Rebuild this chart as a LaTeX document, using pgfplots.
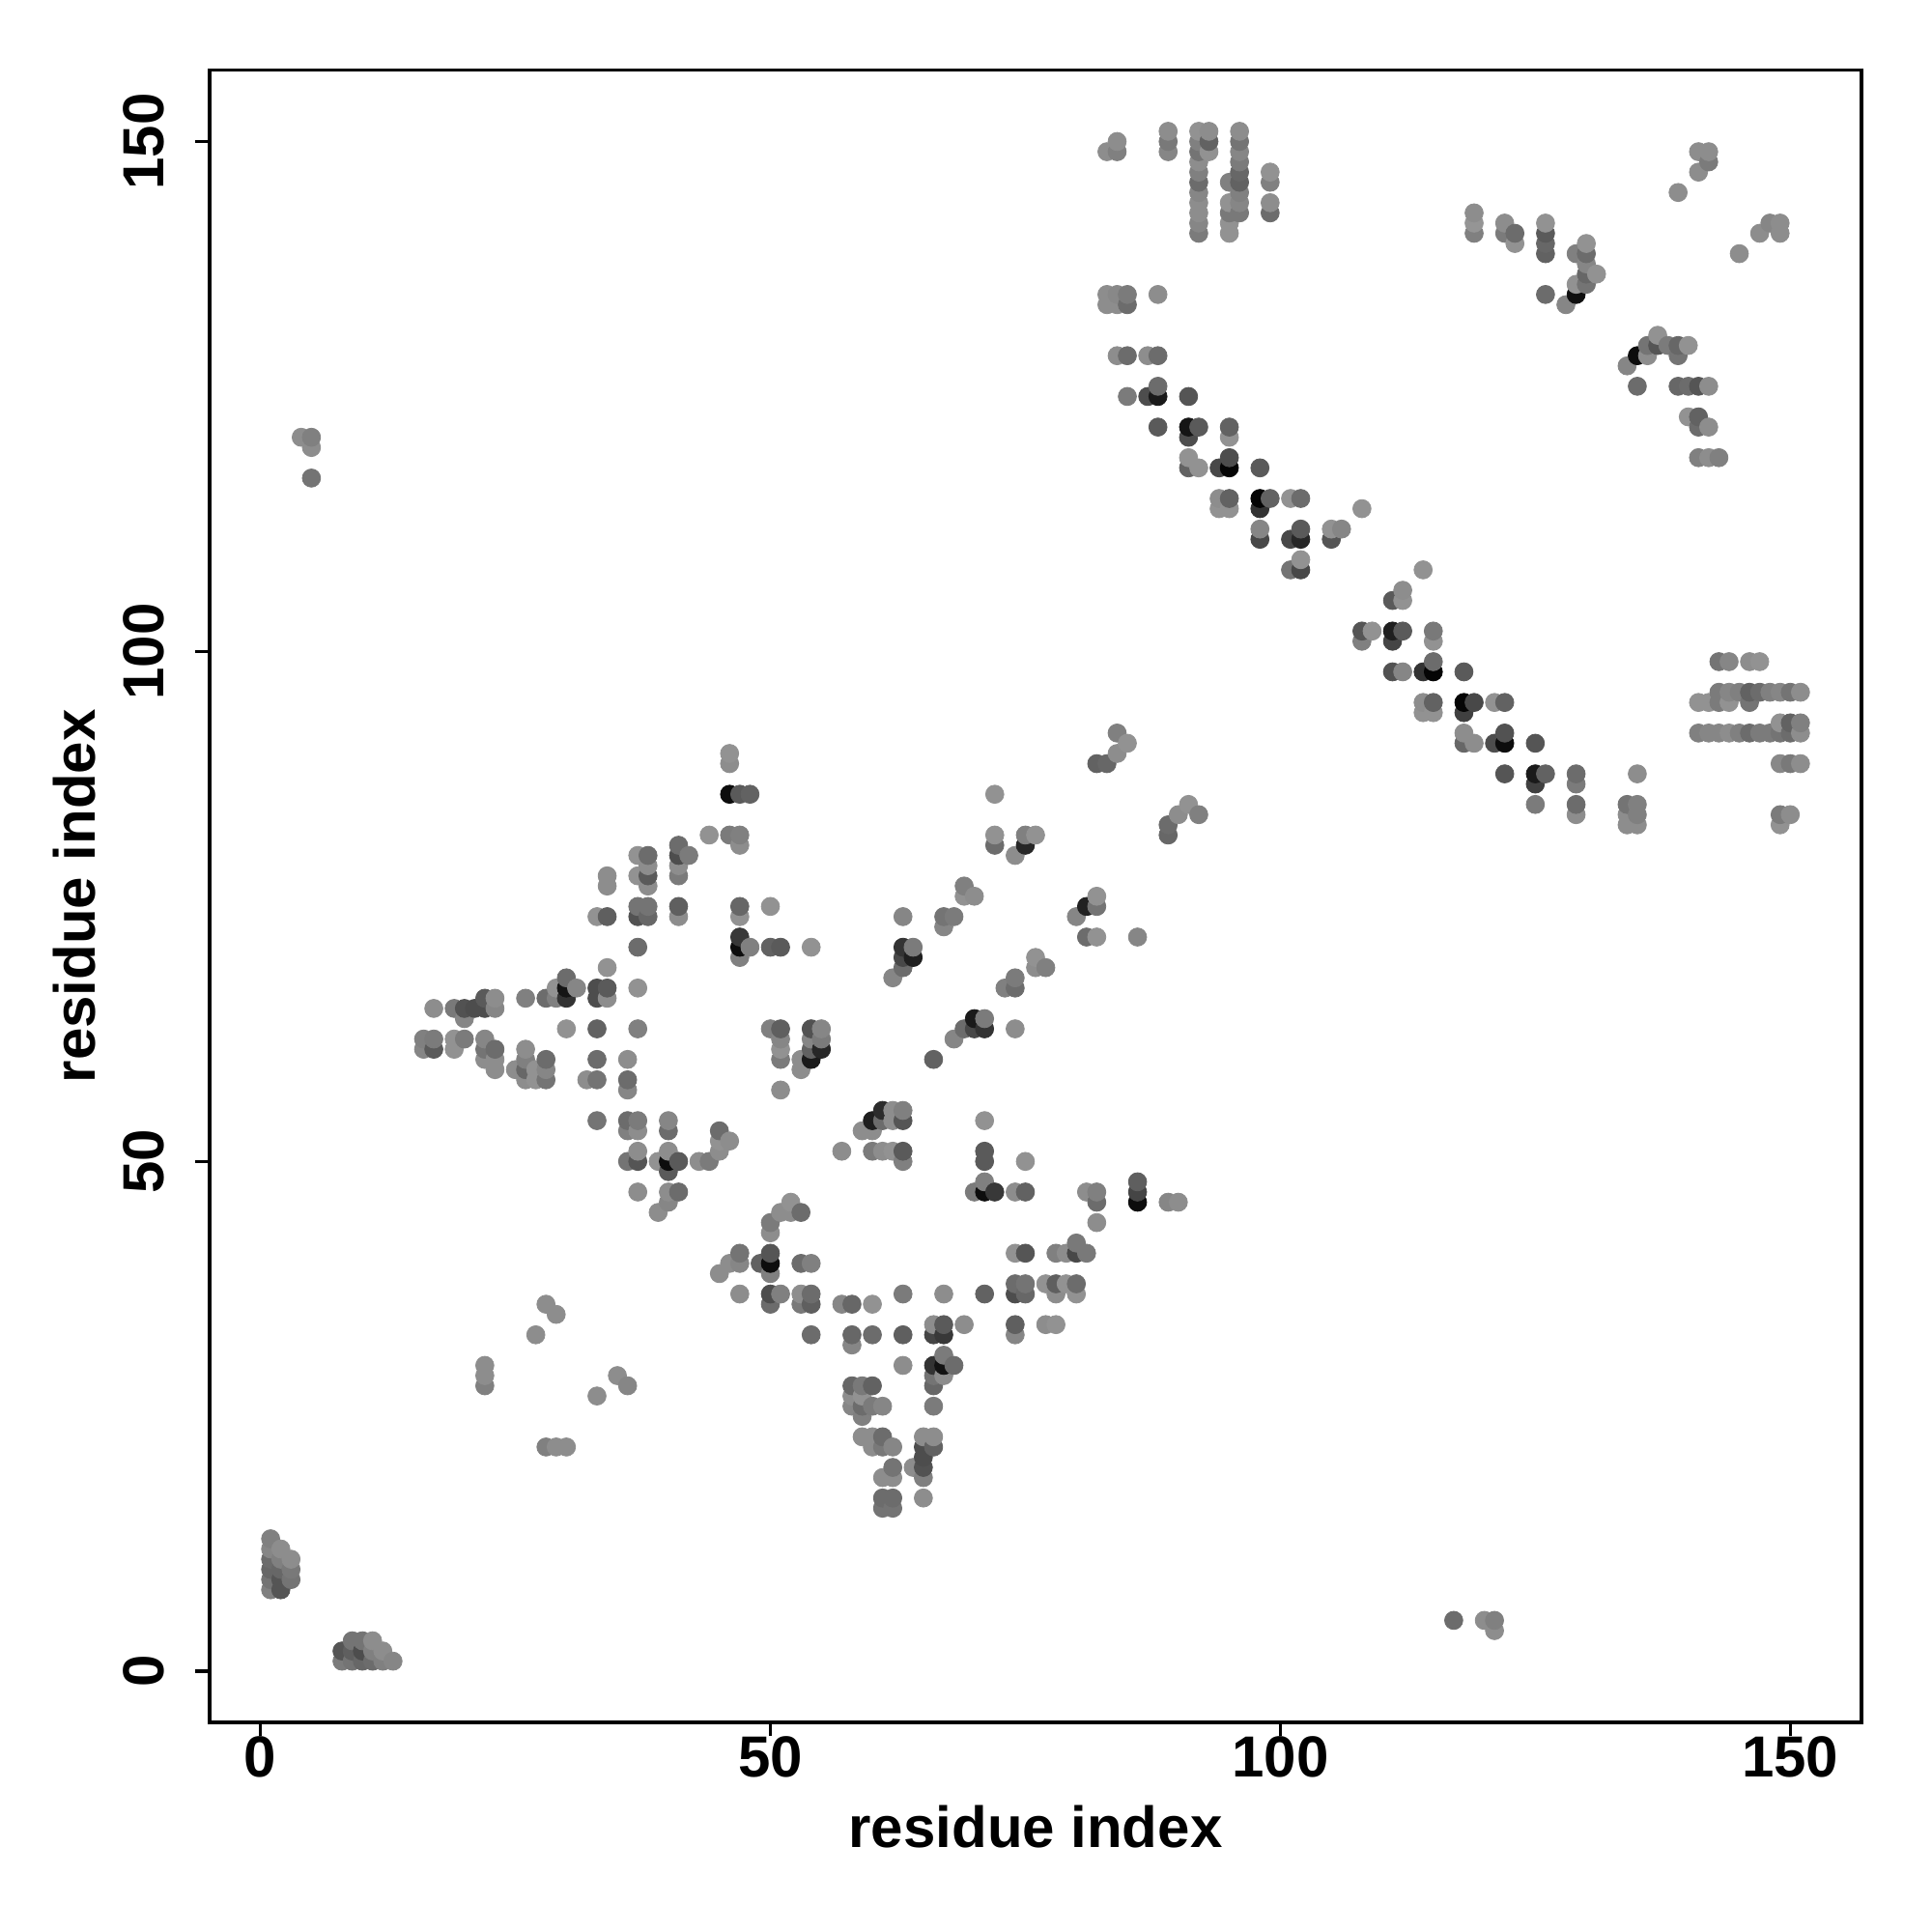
\documentclass[border=0pt]{standalone}
\usepackage{fontspec}
\setmainfont{Liberation Sans}
\usepackage{pgfplots}
\pgfplotsset{compat=1.18}
\newcommand{\lab}{\fontsize{15}{18}\selectfont\bfseries}
\begin{document}
\begin{tikzpicture}
\path[use as bounding box] (-54.2pt,-54.25pt) rectangle (445.8pt,445.75pt);
\begin{axis}[
  at={(0,0)}, anchor=south west,
  scale only axis, width=427.6pt, height=427.6pt,
  xmin=-5, xmax=157, ymin=-5, ymax=157,
  xtick={0,50,100,150}, ytick={0,50,100,150},
  tick align=outside, tick pos=left,
  major tick length=3.6pt,
  tick style={black, line width=0.9pt},
  axis line style={line width=0.95pt},
  /pgf/number format/assume math mode=true,
  ticklabel style={font=\lab},
  xticklabel style={yshift=3.5pt},
  yticklabel style={rotate=90, anchor=south, yshift=4.5pt},
  xlabel={residue index}, ylabel={residue index},
  label style={font=\lab},
  xlabel style={at={(axis description cs:0.5,0)}, anchor=north, yshift=-18pt},
  ylabel style={at={(axis description cs:0,0.5)}, anchor=south, yshift=26pt},
  colormap={grayscale}{gray(0cm)=(0); gray(1cm)=(1)},
  point meta min=0, point meta max=1,
]
% drawn in order of x then y: later points sit on top
\addplot[scatter, only marks, mark=*, mark size=2.35pt, line width=0.2pt,
  point meta=explicit,
  scatter/use mapped color={draw=mapped color, fill=mapped color}]
  table[row sep=\\, meta=g] {
x y g\\
1 8 .5\\1 9 .45\\1 10 .4\\1 11 .42\\1 12 .52\\1 13 .5\\
2 8 .33\\2 9 .33\\2 10 .4\\2 11 .5\\2 12 .55\\
3 9 .45\\3 10 .47\\3 11 .55\\
4 121 .55\\
5 117 .45\\5 120 .55\\5 121 .5\\
8 1 .48\\8 2 .33\\
9 1 .45\\9 2 .37\\9 3 .45\\
10 1 .4\\10 2 .3\\10 3 .45\\
11 1 .42\\11 2 .5\\11 3 .55\\
12 1 .5\\12 2 .55\\
13 1 .52\\
16 61 .52\\16 62 .5\\
17 61 .35\\17 62 .48\\17 65 .55\\
19 61 .57\\19 62 .57\\19 65 .47\\
20 62 .48\\20 64 .52\\20 65 .32\\
21 65 .3\\
22 28 .5\\22 29 .55\\22 30 .55\\22 60 .55\\22 61 .45\\22 62 .52\\22 65 .3\\22 66 .35\\
23 59 .55\\23 60 .55\\23 61 .42\\23 65 .52\\23 66 .55\\
25 59 .55\\
26 58 .55\\26 59 .4\\26 60 .5\\26 61 .55\\26 66 .5\\
27 33 .55\\27 58 .57\\27 59 .57\\
28 22 .5\\28 36 .55\\28 58 .45\\28 59 .52\\28 60 .42\\28 66 .42\\
29 22 .55\\29 35 .55\\29 66 .5\\29 67 .57\\
30 22 .55\\30 63 .57\\30 66 .2\\30 67 .08\\30 68 .42\\
31 67 .52\\
32 58 .55\\
33 27 .55\\33 54 .45\\33 58 .45\\33 60 .42\\33 63 .38\\33 66 .3\\33 67 .3\\33 74 .57\\
34 66 .55\\34 67 .35\\34 69 .57\\34 74 .37\\34 77 .55\\34 78 .55\\
35 29 .55\\
36 28 .52\\36 50 .45\\36 53 .5\\36 54 .42\\36 57 .52\\36 58 .42\\36 60 .55\\
37 47 .55\\37 50 .33\\37 51 .55\\37 53 .55\\37 54 .48\\37 63 .5\\37 67 .57\\37 71 .42\\37 74 .32\\37 75 .45\\37 78 .57\\37 80 .57\\
38 74 .4\\38 75 .45\\38 77 .55\\38 78 .35\\38 79 .55\\38 80 .42\\
39 45 .55\\39 50 .57\\
40 46 .52\\40 47 .55\\40 49 .35\\40 50 .05\\40 51 .55\\40 53 .42\\40 54 .52\\
41 47 .42\\41 50 .35\\41 74 .55\\41 75 .37\\41 78 .48\\41 79 .55\\41 80 .3\\41 81 .42\\
42 80 .48\\
43 50 .55\\
44 50 .48\\44 82 .57\\
45 39 .55\\45 51 .55\\45 52 .57\\45 53 .42\\
46 40 .55\\46 52 .55\\46 82 .48\\46 86 .05\\46 89 .55\\46 90 .57\\
47 37 .55\\47 40 .52\\47 41 .45\\47 70 .5\\47 71 .05\\47 72 .22\\47 74 .57\\47 75 .4\\47 81 .55\\47 82 .5\\47 86 .35\\
48 71 .5\\48 86 .38\\
49 40 .38\\
50 36 .42\\50 37 .3\\50 39 .5\\50 40 .05\\50 41 .33\\50 43 .55\\50 44 .48\\50 63 .5\\50 71 .38\\50 75 .57\\
51 37 .5\\51 45 .55\\51 57 .55\\51 60 .48\\51 61 .57\\51 62 .52\\51 63 .37\\51 71 .35\\
52 45 .55\\52 46 .57\\
53 36 .47\\53 37 .55\\53 40 .42\\53 45 .42\\53 59 .55\\53 60 .55\\
54 33 .42\\54 36 .37\\54 37 .42\\54 40 .5\\54 60 .1\\54 61 .38\\54 62 .52\\54 63 .32\\54 71 .57\\
55 61 .15\\55 62 .48\\55 63 .52\\
57 36 .52\\57 51 .55\\
58 26 .52\\58 27 .55\\58 28 .4\\58 32 .52\\58 33 .4\\58 36 .4\\
59 23 .55\\59 25 .5\\59 26 .42\\59 27 .57\\59 28 .47\\59 53 .55\\
60 22 .55\\60 23 .55\\60 26 .48\\60 28 .38\\60 33 .42\\60 36 .57\\60 51 .48\\60 53 .55\\60 54 .12\\
61 16 .45\\61 17 .42\\61 19 .55\\61 22 .47\\61 23 .42\\61 26 .52\\61 51 .55\\61 54 .42\\61 55 .17\\
62 16 .45\\62 17 .42\\62 19 .55\\62 20 .45\\62 22 .52\\62 51 .57\\62 54 .55\\62 55 .55\\62 68 .52\\
63 30 .55\\63 33 .37\\63 37 .48\\63 50 .5\\63 51 .35\\63 54 .33\\63 55 .5\\63 69 .42\\63 70 .28\\63 71 .2\\63 74 .52\\
64 20 .55\\64 70 .12\\64 71 .48\\
65 17 .55\\65 19 .5\\65 20 .32\\65 21 .3\\65 22 .3\\65 23 .55\\
66 22 .38\\66 23 .55\\66 26 .48\\66 28 .4\\66 29 .45\\66 30 .2\\66 33 .27\\66 34 .55\\66 60 .38\\
67 29 .55\\67 30 .07\\67 31 .48\\67 33 .22\\67 34 .35\\67 37 .55\\67 73 .52\\67 74 .45\\
68 30 .42\\68 62 .52\\68 74 .48\\
69 34 .55\\69 63 .42\\69 76 .57\\69 77 .5\\
70 47 .48\\70 63 .28\\70 64 .1\\70 76 .55\\
71 37 .38\\71 47 .05\\71 48 .5\\71 50 .35\\71 51 .35\\71 54 .57\\71 63 .2\\71 64 .48\\
72 47 .22\\72 81 .42\\72 82 .57\\72 86 .57\\
73 67 .5\\
74 33 .52\\74 34 .37\\74 37 .3\\74 38 .42\\74 41 .57\\74 47 .55\\74 63 .55\\74 67 .42\\74 68 .48\\74 80 .55\\
75 37 .4\\75 38 .45\\75 41 .33\\75 47 .38\\75 50 .57\\75 81 .15\\75 82 .5\\
76 69 .55\\76 70 .57\\76 82 .57\\
77 34 .55\\77 38 .57\\77 69 .5\\
78 34 .57\\78 37 .55\\78 38 .37\\78 41 .5\\
79 38 .57\\79 41 .55\\
80 37 .57\\80 38 .42\\80 41 .28\\80 42 .47\\80 74 .52\\
81 41 .47\\81 47 .55\\81 72 .42\\81 75 .13\\
82 44 .55\\82 46 .42\\82 47 .5\\82 72 .57\\82 75 .45\\82 76 .57\\82 89 .38\\
83 89 .4\\83 134 .55\\83 135 .55\\83 149 .55\\
84 90 .55\\84 92 .5\\84 129 .55\\84 134 .55\\84 135 .53\\84 149 .5\\84 150 .55\\
85 91 .57\\85 125 .48\\85 129 .42\\85 134 .42\\85 135 .48\\
86 46 .05\\86 47 .27\\86 48 .37\\86 72 .52\\
87 125 .3\\87 129 .55\\
88 122 .35\\88 125 .1\\88 126 .42\\88 129 .42\\88 135 .55\\
89 46 .52\\89 82 .4\\89 83 .42\\89 149 .52\\89 150 .47\\89 151 .55\\
90 46 .55\\90 84 .55\\
91 85 .57\\91 118 .38\\91 119 .57\\91 121 .3\\91 122 .08\\91 125 .33\\
92 84 .5\\92 118 .57\\92 122 .35\\92 141 .48\\92 142 .52\\92 143 .55\\92 144 .55\\92 145 .52\\92 146 .42\\92 147 .5\\92 148 .55\\92 149 .45\\92 150 .5\\92 151 .57\\
93 149 .57\\93 150 .38\\93 151 .55\\
94 114 .57\\94 115 .55\\94 118 .28\\
95 114 .57\\95 115 .38\\95 118 .02\\95 119 .3\\95 121 .57\\95 122 .38\\95 141 .57\\95 142 .57\\95 143 .47\\95 144 .57\\95 146 .5\\
96 143 .47\\96 144 .52\\96 145 .5\\96 146 .38\\96 147 .4\\96 148 .48\\96 149 .52\\96 150 .45\\96 151 .55\\
98 111 .28\\98 112 .52\\98 114 .2\\98 115 .02\\98 118 .35\\
99 115 .38\\99 143 .42\\99 144 .55\\99 146 .5\\99 147 .57\\
101 108 .45\\101 111 .28\\101 115 .57\\
102 108 .28\\102 109 .57\\102 111 .15\\102 112 .35\\102 115 .42\\
105 111 .33\\105 112 .57\\
106 112 .52\\
108 101 .5\\108 102 .33\\108 114 .57\\
109 102 .57\\
111 98 .32\\111 101 .27\\111 102 .12\\111 105 .35\\
112 98 .52\\112 102 .35\\112 105 .57\\112 106 .55\\
114 94 .57\\114 95 .55\\114 98 .2\\114 108 .57\\
115 94 .57\\115 95 .38\\115 98 .02\\115 99 .42\\115 101 .57\\115 102 .47\\
117 5 .42\\
118 91 .4\\118 92 .55\\118 94 .25\\118 95 .02\\118 98 .35\\
119 91 .55\\119 95 .28\\119 141 .5\\119 142 .58\\119 143 .55\\
120 5 .55\\
121 4 .55\\121 5 .5\\121 91 .3\\121 95 .57\\
122 88 .33\\122 91 .05\\122 92 .32\\122 95 .38\\122 141 .48\\122 142 .55\\
123 140 .57\\123 141 .42\\
125 85 .48\\125 87 .25\\125 88 .1\\125 91 .33\\
126 88 .38\\126 135 .42\\126 139 .38\\126 140 .4\\126 141 .35\\126 142 .57\\
128 134 .52\\
129 84 .55\\129 85 .42\\129 87 .48\\129 88 .42\\129 135 .06\\129 136 .57\\129 139 .5\\
130 136 .45\\130 137 .4\\130 138 .52\\130 139 .42\\130 140 .57\\
131 137 .57\\
134 83 .55\\134 84 .55\\134 85 .45\\134 128 .52\\
135 83 .55\\135 84 .5\\135 85 .5\\135 88 .55\\135 126 .42\\135 129 .05\\
136 129 .55\\136 130 .45\\
137 130 .33\\137 131 .57\\
138 130 .48\\
139 126 .4\\139 129 .45\\139 130 .4\\139 145 .55\\
140 123 .57\\140 126 .42\\140 130 .57\\
141 92 .5\\141 95 .57\\141 119 .5\\141 122 .42\\141 123 .38\\141 126 .33\\141 147 .55\\141 149 .55\\
142 92 .52\\142 95 .57\\142 119 .55\\142 122 .55\\142 126 .55\\142 148 .48\\142 149 .55\\
143 92 .52\\143 95 .48\\143 96 .48\\143 99 .45\\143 119 .5\\
144 92 .55\\144 95 .57\\144 96 .52\\144 99 .52\\
145 92 .5\\145 96 .5\\145 139 .55\\
146 92 .42\\146 95 .45\\146 96 .38\\146 99 .55\\
147 92 .48\\147 96 .42\\147 99 .57\\147 141 .55\\
148 92 .48\\148 96 .5\\148 142 .52\\
149 83 .57\\149 84 .48\\149 89 .53\\149 92 .45\\149 93 .57\\149 96 .52\\149 141 .55\\149 142 .55\\
150 84 .55\\150 89 .47\\150 92 .42\\150 93 .38\\150 96 .45\\
151 89 .55\\151 92 .55\\151 93 .5\\151 96 .55\\
};
\end{axis}
\end{tikzpicture}
\end{document}
